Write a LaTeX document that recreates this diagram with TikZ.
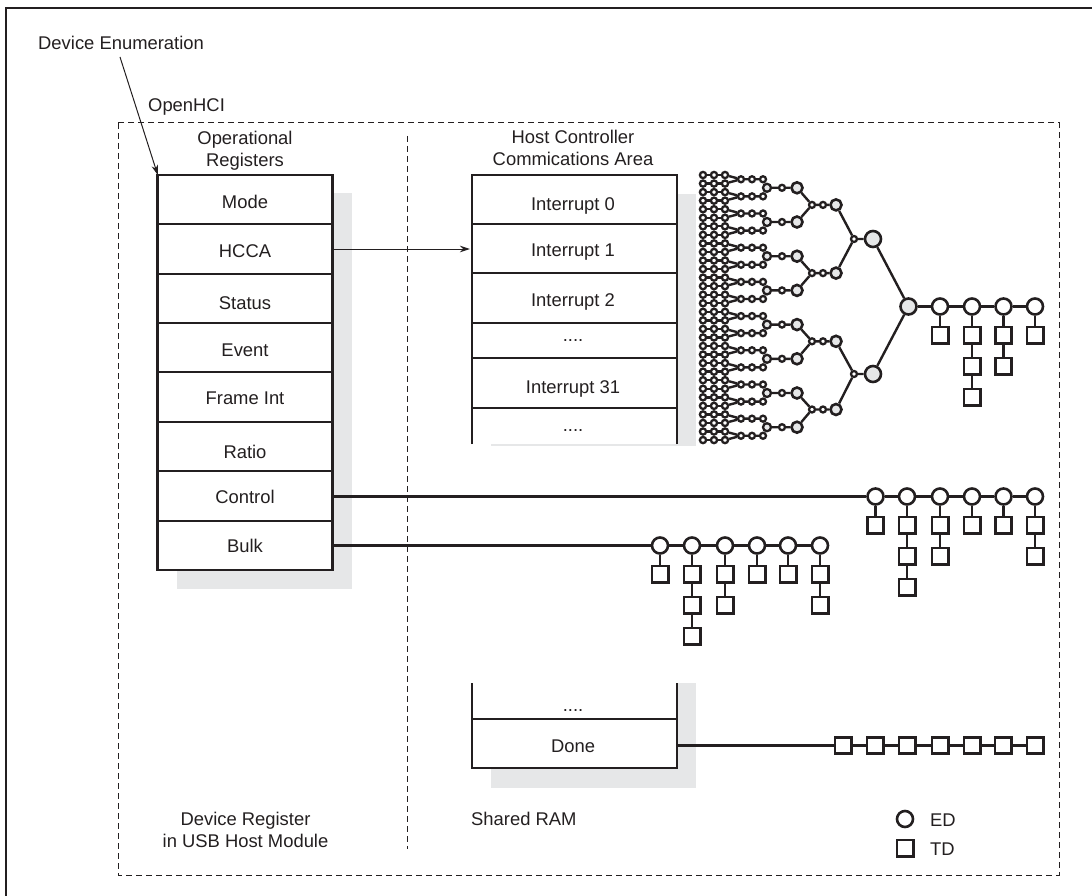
\documentclass[tikz,border=0pt]{standalone}
\usepackage{fontspec}
\setmainfont{Liberation Sans}
\definecolor{ink}{RGB}{35, 31, 32}
\definecolor{softgray}{RGB}{230, 231, 232}
\usetikzlibrary{arrows.meta, positioning}

\begin{document}
\begin{tikzpicture}[
        x=1pt, y=-1pt,
        every node/.style={font=\fontsize{18.4}{21.8}\selectfont, text=ink, align=center},
        txt/.style={inner sep=0pt, text height=13pt, text depth=0pt},
        heading/.style={inner sep=0pt, text depth=0pt, anchor=south},
        reg/.style={rectangle, draw=ink, line width=2.8pt, fill=white, minimum width=174.5pt, inner sep=0pt, outer sep=0pt, text height=13pt, text depth=0pt},
        hcca/.style={reg, minimum width=205pt, execute at begin node=\hspace*{-3pt}},
        hccaopen/.style={hcca, draw=none},
        leaf/.style={circle, draw=ink, fill=white, line width=2.3pt, minimum size=6.2pt, inner sep=0pt},
        edtiny/.style={leaf, minimum size=6pt},
        edmid/.style={leaf, fill=softgray, minimum size=8pt},
        edbig/.style={leaf, fill=softgray, minimum size=11pt, line width=2.6pt},
        edhuge/.style={edbig, minimum size=16pt},
        ed/.style={edhuge, fill=white},
        td/.style={rectangle, draw=ink, fill=white, line width=2.6pt, minimum size=16.4pt, inner sep=0pt},
        link/.style={draw=ink, line width=2.4pt},
        wire/.style={draw=ink, line width=2.6pt},
        dashline/.style={draw=ink, line width=1pt, dash pattern=on 6pt off 4pt},
        line/.style={draw=ink, line width=1pt, -{Stealth[length=10pt, width=6.5pt]}}
    ]
        \useasboundingbox (0,0) rectangle (1092,896);

        % page frame and shadows
        \draw[draw=ink, line width=2.4pt] (6,896) -- (6,8) -- (1092,8);
        \fill[softgray] (177,193) rectangle (352,589);
        \fill[softgray] (491,194) rectangle (696,446);
        \fill[softgray] (491,683) rectangle (696,788);
        \draw[dashline] (118,123) rectangle (1059,875);
        \draw[dashline] (407,136) -- (407,849);

        \node[txt, anchor=west] (enum) at (38,43) {Device Enumeration};
        \node[txt, anchor=west] (openhci) at (148,105) {OpenHCI};
        \node[heading] (opreg) at (245,166.5) {Operational\\Registers};
        \node[heading] (hccatitle) at (573,165.5) {Host Controller\\Commications Area};
        \node[heading] (devreg) at (245.5,847.5) {Device Register\\in USB Host Module};
        \node[txt, anchor=west] (ram) at (471,819) {Shared RAM};

        % operational registers
        \node[reg, minimum height=49pt]   (mode)    at (245,199.5) {\raisebox{-2.5pt}{Mode}};
        \node[reg, minimum height=50pt]   (regcca)  at (245,249)   {\raisebox{-2pt}{HCCA}};
        \node[reg, minimum height=49pt]   (status)  at (245,298.5) {\raisebox{-4.5pt}{Status}};
        \node[reg, minimum height=49pt]   (event)   at (245,347.5) {\raisebox{-2.5pt}{Event}};
        \node[reg, minimum height=50pt]   (frame)   at (245,397)   {\raisebox{-1pt}{Frame Int}};
        \node[reg, minimum height=49pt]   (ratio)   at (245,446.5) {\raisebox{-5.5pt}{Ratio}};
        \node[reg, minimum height=50pt]   (control) at (245,496)   {\raisebox{-1pt}{Control}};
        \node[reg, minimum height=49pt]   (bulk)    at (245,545.5) {Bulk};

        % communications area
        \node[hcca, minimum height=49pt]  (int0)  at (574.5,199.5) {\raisebox{-4.5pt}{Interrupt 0}};
        \node[hcca, minimum height=49pt]  (int1)  at (574.5,248.5) {\raisebox{-1.5pt}{Interrupt 1}};
        \node[hcca, minimum height=50pt]  (int2)  at (574.5,298)   {\raisebox{-2pt}{Interrupt 2}};
        \node[hcca, minimum height=35pt]  (more)  at (574.5,340.5) {\raisebox{6pt}{....}};
        \node[hcca, minimum height=50pt]  (int31) at (574.5,383)   {\raisebox{-4pt}{Interrupt 31}};
        \node[hccaopen, minimum height=36pt] (rest) at (574.5,426) {\raisebox{1.5pt}{....}};
        \draw[wire] (rest.south west) -- (rest.north west) (rest.south east) -- (rest.north east);
        \draw[wire] (int31.south west) -- (int31.south east);

        \node[hccaopen, minimum height=36pt] (pre) at (574.5,701) {\raisebox{-4pt}{....}};
        \node[hcca, minimum height=49pt]  (done) at (574.5,743.5) {\raisebox{-2.5pt}{Done}};
        \draw[wire] (pre.south west) -- (pre.north west) (pre.south east) -- (pre.north east);

        % interrupt tree
        \foreach \row in {0,...,31}{
            \pgfmathsetmacro\ry{175+8.55*\row}
            \foreach \col/\x in {a/703,b/714,c/725}{
                \node[leaf] (\col\row) at (\x,\ry) {};
            }
            \draw[link] (a\row) -- (b\row) -- (c\row);
        }
        \foreach \i in {0,...,15}{
            \pgfmathsetmacro\ry{175+8.55*(2*\i+0.5)}
            \pgfmathtruncatemacro\up{2*\i}
            \pgfmathtruncatemacro\dn{2*\i+1}
            \node[edtiny] (d\i) at (741,\ry) {};
            \node[edtiny] (e\i) at (752,\ry) {};
            \node[edtiny] (f\i) at (763,\ry) {};
            \draw[link] (c\up) -- (d\i) (c\dn) -- (d\i) (d\i) -- (e\i) -- (f\i);
        }
        \foreach \i in {0,...,7}{
            \pgfmathsetmacro\ry{187.8+34.2*\i}
            \pgfmathtruncatemacro\up{2*\i}
            \pgfmathtruncatemacro\dn{2*\i+1}
            \node[edmid]  (g\i) at (767,\ry) {};
            \node[edtiny] (h\i) at (782,\ry) {};
            \node[edbig]  (k\i) at (797,\ry) {};
            \draw[link] (f\up) -- (g\i) (f\dn) -- (g\i) (g\i) -- (h\i) -- (k\i);
        }
        \foreach \i in {0,...,3}{
            \pgfmathsetmacro\ry{204.9+68.2*\i}
            \pgfmathtruncatemacro\up{2*\i}
            \pgfmathtruncatemacro\dn{2*\i+1}
            \node[edtiny] (m\i) at (812,\ry) {};
            \node[edtiny] (n\i) at (823,\ry) {};
            \node[edbig]  (p\i) at (836,\ry) {};
            \draw[link] (k\up) -- (m\i) (k\dn) -- (m\i) (m\i) -- (n\i) -- (p\i);
        }
        \foreach \i in {0,1}{
            \pgfmathsetmacro\ry{239+135*\i}
            \pgfmathtruncatemacro\up{2*\i}
            \pgfmathtruncatemacro\dn{2*\i+1}
            \node[edtiny] (q\i) at (854,\ry) {};
            \node[edhuge] (s\i) at (873,\ry) {};
            \draw[link] (p\up) -- (q\i) (p\dn) -- (q\i) (q\i) -- (s\i);
        }
        \node[edhuge] (root) at (908.5,306.5) {};
        \draw[link] (s0) -- (root);
        \draw[link] (s1) -- (root);

        % lists of descriptors
        \foreach \i/\x/\n in {1/940/1,2/972/3,3/1003.5/2,4/1035/1}{
            \node[ed] (ir\i) at (\x,306.5) {};
            \foreach \k/\yy in {1/335,2/366,3/397}{
                \ifnum\k>\n\else
                    \node[td] (irt\i\k) at (\x,\yy) {};
                \fi
            }
            \draw[link] (ir\i) -- (irt\i1);
            \ifnum\n>1 \draw[link] (irt\i1) -- (irt\i2); \fi
            \ifnum\n>2 \draw[link] (irt\i2) -- (irt\i3); \fi
        }
        \draw[link] (root) -- (ir1);
        \draw[link] (ir1) -- (ir2);
        \draw[link] (ir2) -- (ir3);
        \draw[link] (ir3) -- (ir4);

        \foreach \i/\x/\n in {1/875.5/1,2/907/3,3/940/2,4/972/1,5/1003.5/1,6/1035/2}{
            \node[ed] (ctl\i) at (\x,496.5) {};
            \foreach \k/\yy in {1/525,2/556,3/587}{
                \ifnum\k>\n\else
                    \node[td] (ctlt\i\k) at (\x,\yy) {};
                \fi
            }
            \draw[link] (ctl\i) -- (ctlt\i1);
            \ifnum\n>1 \draw[link] (ctlt\i1) -- (ctlt\i2); \fi
            \ifnum\n>2 \draw[link] (ctlt\i2) -- (ctlt\i3); \fi
        }
        \draw[link] (ctl1) -- (ctl2);
        \draw[link] (ctl2) -- (ctl3);
        \draw[link] (ctl3) -- (ctl4);
        \draw[link] (ctl4) -- (ctl5);
        \draw[link] (ctl5) -- (ctl6);

        \foreach \i/\x/\n in {1/660/1,2/692/3,3/725/2,4/757/1,5/788/1,6/820/2}{
            \node[ed] (blk\i) at (\x,545.5) {};
            \foreach \k/\yy in {1/574,2/605,3/636}{
                \ifnum\k>\n\else
                    \node[td] (blkt\i\k) at (\x,\yy) {};
                \fi
            }
            \draw[link] (blk\i) -- (blkt\i1);
            \ifnum\n>1 \draw[link] (blkt\i1) -- (blkt\i2); \fi
            \ifnum\n>2 \draw[link] (blkt\i2) -- (blkt\i3); \fi
        }
        \draw[link] (blk1) -- (blk2);
        \draw[link] (blk2) -- (blk3);
        \draw[link] (blk3) -- (blk4);
        \draw[link] (blk4) -- (blk5);
        \draw[link] (blk5) -- (blk6);

        \foreach \i/\x in {1/843,2/875,3/907,4/940,5/972,6/1003,7/1035}{
            \node[td] (dn\i) at (\x,745.5) {};
        }
        \draw[link] (dn1) -- (dn2);
        \draw[link] (dn2) -- (dn3);
        \draw[link] (dn3) -- (dn4);
        \draw[link] (dn4) -- (dn5);
        \draw[link] (dn5) -- (dn6);
        \draw[link] (dn6) -- (dn7);

        % legend
        \node[ed] (keyed) at (905,819) {};
        \node[td] (keytd) at (905,848) {};
        \node[txt, anchor=west] (edtext) at (930,820) {ED};
        \node[txt, anchor=west] (tdtext) at (930,849) {TD};

        % pointers
        \coordinate (enumstart) at (120,57);
        \draw[line] (enumstart) -- (mode.north west);
        \draw[line, shorten >=2pt] (regcca.east) -- (regcca.east -| int1.west);
        \draw[wire] (control.east |- ctl1.west) -- (ctl1);
        \draw[wire] (bulk.east) -- (blk1);
        \draw[wire] (done.east |- dn1.west) -- (dn1);
    \end{tikzpicture}
\end{document}
